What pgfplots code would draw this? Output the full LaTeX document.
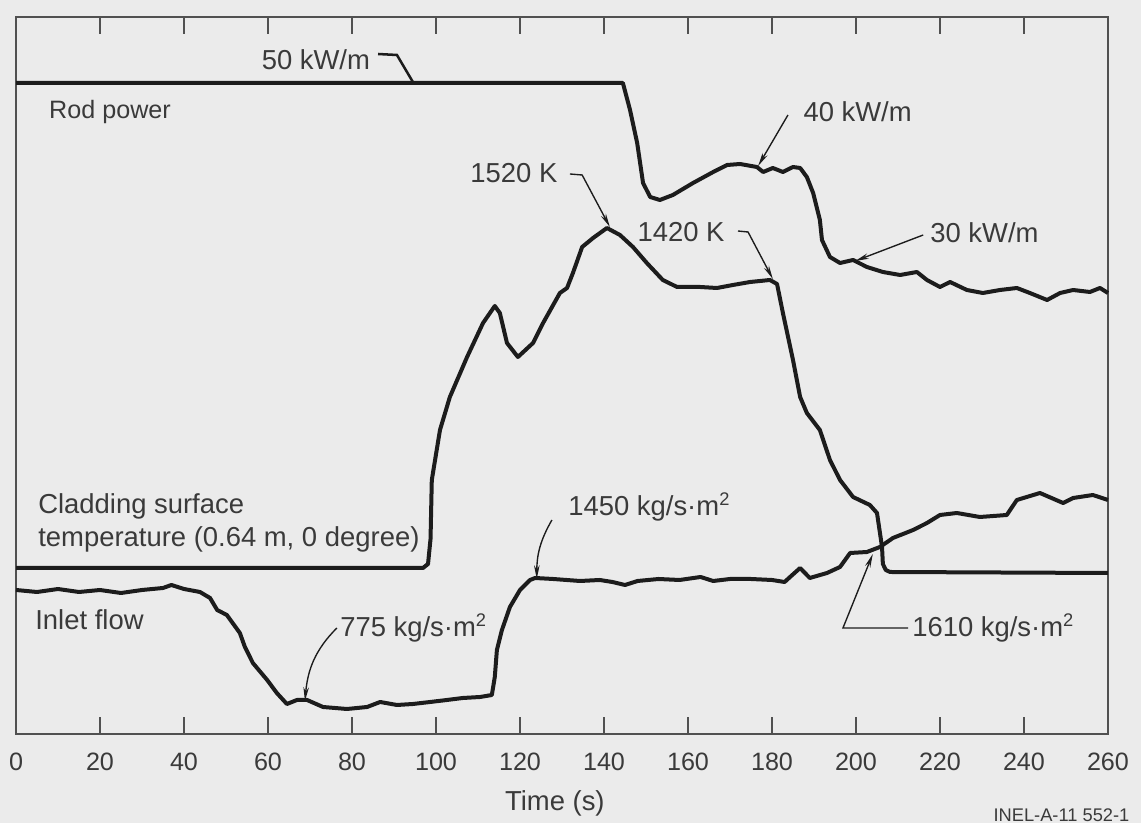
\documentclass[border=0pt]{standalone}
\usepackage{fontspec}
\setmainfont{Liberation Sans}
\usepackage{pgfplots}
\pgfplotsset{compat=1.18}
\usetikzlibrary{arrows.meta}
\definecolor{scanBg}{HTML}{EBEBEB}
\definecolor{traceInk}{HTML}{1C1C1C}
\definecolor{labelInk}{HTML}{3A3A3A}
\definecolor{frameInk}{HTML}{505050}

\begin{document}
\begin{tikzpicture}[
  lbl/.style={font=\fontsize{12}{14.5}\selectfont, text=labelInk, inner sep=0pt},
  lead/.style={draw=traceInk, line width=0.6pt, -{Stealth[length=6pt,width=2.4pt]}},
]
\path[use as bounding box, fill=scanBg] (-7pt,-38.94pt) rectangle (492.19pt,321.13pt);
\begin{axis}[
  scale only axis, width=477.75pt, height=313.69pt,
  xmin=0, xmax=260, ymin=0, ymax=717,
  xtick={0,20,...,260}, ytick=\empty,
  tick align=inside, major tick length=7.4pt,
  xtick style={draw=frameInk, line width=0.9pt},
  axis line style={draw=frameInk, line width=0.7pt},
  ticklabel style={font=\fontsize{11}{13}\selectfont, text=labelInk},
  xticklabel style={yshift=-4.6pt},
  /pgf/number format/assume math mode=true,
  clip=false,
  trace/.style={draw=traceInk, line width=1.75pt, line join=round, mark=none},
]
% rod power
\addplot[trace] coordinates {
(0,651) (144.5,651) (146.2,624) (147.9,591) (149.3,551) (151.0,537) (153.3,534)
(156.4,539) (161.2,551) (166.0,562) (169.3,569) (172.4,570) (176.4,567) (177.9,562)
(180.2,566) (182.6,562) (185.0,567) (186.7,566) (188.3,557) (189.8,541) (191.4,514)
(191.9,494) (193.8,477) (196.2,471) (199.3,474) (202.6,467) (206.4,462) (210.5,459)
(214.5,462) (216.9,454) (220.0,447) (222.4,452) (226.4,444) (230.2,441) (234.3,444)
(238.3,446) (241.4,441) (245.5,434) (248.6,441) (251.7,444) (255.7,442) (258.1,446)
(260,441)};
% cladding surface temperature
\addplot[trace] coordinates {
(0,166) (96.9,166) (98.1,170) (98.7,195) (99.0,254) (100.95,304) (103.3,337)
(107.4,377) (111.2,411) (114.0,428) (115.2,421) (116.9,391) (119.5,377) (123.1,391)
(125.5,411) (129.5,441) (131.2,446) (132.6,461) (134.8,487) (137.4,496) (140.7,506)
(143.8,499) (146.9,487) (150.2,471) (154.0,454) (157.4,447) (162.9,447) (166.9,446)
(170.7,449) (174.8,452) (179.5,454) (181.2,450) (182.6,421) (185.0,374) (186.7,337)
(188.3,321) (191.4,304) (193.8,274) (196.2,254) (199.3,237) (203.3,229) (205.0,221)
(206.2,187) (206.4,170) (207.1,164) (208.1,162) (260,161)};
% inlet flow
\addplot[trace] coordinates {
(0,144) (5,142) (10,145) (15,142) (20,144) (25,141) (30,144) (35,146) (37,149)
(40,145) (43.8,142) (46.2,136) (47.9,124) (50.2,119) (53.3,101) (54.5,87) (56.4,71)
(59.8,54) (62.1,41) (64.5,30) (66.9,34) (69.3,34) (73.1,27) (78.8,25) (83.6,27)
(86.7,32) (90.7,29) (94.5,30) (98.6,32) (102.6,34) (106.4,36) (110.5,37) (113.3,39)
(114.0,57) (114.5,84) (115.7,104) (117.6,127) (120,144) (122.4,154) (123.6,156)
(127.9,155) (134.3,153) (139,154) (142,152) (145,149) (148,153) (153,155) (158,154)
(163,157) (166,153) (170,155) (175,155) (180,154) (183,152) (184.3,157) (186.7,166)
(189,156) (193.1,161) (196.2,167) (198.6,181) (202.6,182) (205.7,187) (208.8,196)
(213.6,204) (216.9,211) (220,219) (224,221) (229.5,217) (235.9,219) (238.3,234)
(243.8,241) (249.3,231) (251.7,236) (256.4,239) (260,234)};

% labels
\node[lbl, anchor=west, font=\fontsize{11}{13}\selectfont] at (axis cs:7.8,622) {Rod power};
\node[lbl, anchor=west, align=left] at (axis cs:5.2,211) {Cladding surface\\temperature (0.64 m, 0 degree)};
\node[lbl, anchor=west] at (axis cs:4.5,114) {Inlet flow};

% annotations
\node[lbl, anchor=center] at (axis cs:71.4,674) {50 kW/m};
\draw[draw=traceInk, line width=1.1pt] (axis cs:86.2,680) -- (axis cs:90.7,679) -- (axis cs:94.5,652);
\node[lbl, anchor=east] at (axis cs:129.0,561) {1520 K};
\draw[lead] (axis cs:131.9,560) -- (axis cs:134.8,559) -- (axis cs:141.4,507);
\node[lbl, anchor=west] at (axis cs:187.4,622) {40 kW/m};
\draw[lead] (axis cs:183.8,619) -- (axis cs:176.7,568);
\node[lbl, anchor=east] at (axis cs:168.8,502) {1420 K};
\draw[lead] (axis cs:171.9,503) -- (axis cs:174.3,502) -- (axis cs:180.2,455);
\node[lbl, anchor=west] at (axis cs:217.6,501) {30 kW/m};
\draw[lead] (axis cs:216.0,499) -- (axis cs:199.8,473);
\node[lbl, anchor=west] at (axis cs:131.4,227) {1450 kg/s·m\textsuperscript{2}};
\draw[lead] (axis cs:127.6,214) to[out=240, in=90] (axis cs:124.0,155);
\node[lbl, anchor=west] at (axis cs:77.1,106) {775 kg/s·m\textsuperscript{2}};
\draw[lead] (axis cs:76.4,106) to[out=225, in=85] (axis cs:68.8,33);
\node[lbl, anchor=west] at (axis cs:213.3,106) {1610 kg/s·m\textsuperscript{2}};
\draw[lead] (axis cs:212.4,106) -- (axis cs:196.9,106) -- (axis cs:204.0,180);

\node[lbl, anchor=center] at (axis cs:128.3,-69) {Time (s)};
\node[font=\fontsize{8}{10}\selectfont, text=labelInk, inner sep=0pt, anchor=east] at (axis cs:265.2,-81) {INEL-A-11 552-1};
\end{axis}
\end{tikzpicture}
\end{document}
